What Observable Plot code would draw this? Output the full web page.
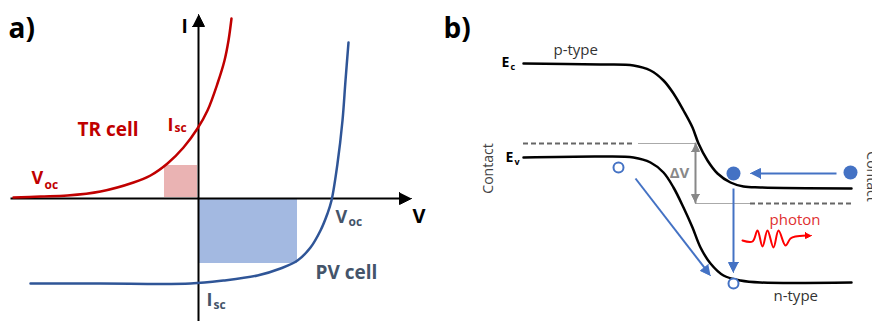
<!DOCTYPE html>
<html><head><meta charset="utf-8">
<script src="https://cdn.jsdelivr.net/npm/d3@7"></script>
<script src="https://cdn.jsdelivr.net/npm/@observablehq/plot@0.6"></script>
<style>html,body{margin:0;padding:0;background:#fff}svg{display:block}</style>
</head><body><div id="chart"></div>
<script>
// ---------- Panel a: I–V curves (schematic coordinates) ----------
const trCell = [[13,197],[40,196],[67,195],[100,191],[133,182],[150,175],[167,163],[183,147],[197,128],[207,110],[217,83],[224,60],[228,40],[231,18]];
const pvCell = [[30,283],[100,283],[190,283],[223,280],[257,275],[280,268],[297,260],[310,247],[320,230],[327,213],[331,200],[337,163],[342,120],[345,80],[348,42]];
const powerRects = [
  {name:"TR", x1:164, x2:197, y1:165, y2:197, fill:"#eab3b3"},
  {name:"PV", x1:198, x2:297, y1:199, y2:263, fill:"#a3b9e1"}
];
const axesA = [
  {name:"I", from:[198,321], to:[198,14]},
  {name:"V", from:[10,198], to:[411,198]}
];
// ---------- Panel b: band diagram ----------
const ecBand = [[523,63],[600,64],[633,65],[650,70],[663,80],[673,93],[683,110],[692,127],[698,143],[707,160],[717,173],[730,182],[743,186],[760,187],[851,188]];
const evBand = [[523,157],[600,156],[633,157],[650,162],[663,172],[673,187],[683,207],[692,227],[700,247],[710,263],[723,275],[740,280],[760,282],[851,282]];
const dashedLevels = [
  {name:"upper", x1:523, x2:634, y:143},
  {name:"lower", x1:750, x2:851, y:203}
];
const thinLevels = [
  {name:"upper", x1:638, x2:695, y:143},
  {name:"lower", x1:695, x2:750, y:203}
];
const deltaV = {from:[695,143], to:[695,202]};
const carrierArrows = [
  {name:"inject", from:[836,173], to:[750,173]},
  {name:"recomb", from:[733,188], to:[733,272]},
  {name:"hole",   from:[635,178], to:[710,275]}
];
const electrons = [[733,173],[850,172]];
const holes = [[618,167],[733,283]];
const photonWave = [[742,240],[752,241],[757,230],[762,246],[767,230],[773,247],[778,230],[785,245],[790,238],[795,236],[806,235]];
const photonTip = {from:[800,235], to:[811,235]};

// ---------- Labels ----------
const F = "'Open Sans', sans-serif";
const labels = [
  {t:"a)", x:8, y:37, size:28, weight:700, color:"#000"},
  {t:"I", x:181, y:32, size:19, weight:700, color:"#000"},
  {t:"V", x:412, y:222, size:20, weight:700, color:"#000"},
  {t:"TR cell", x:77, y:135, size:19, weight:700, color:"#c00000"},
  {t:"I", x:167, y:130, size:18, weight:700, color:"#c00000"},
  {t:"sc", x:174, y:131, size:12, weight:700, color:"#c00000"},
  {t:"V", x:31, y:183, size:18, weight:700, color:"#c00000"},
  {t:"oc", x:44, y:188, size:12, weight:700, color:"#c00000"},
  {t:"V", x:335, y:222, size:18, weight:700, color:"#44546a"},
  {t:"oc", x:348, y:225, size:12, weight:700, color:"#44546a"},
  {t:"PV cell", x:315, y:278, size:19, weight:700, color:"#44546a"},
  {t:"I", x:206, y:305, size:18, weight:700, color:"#44546a"},
  {t:"sc", x:213, y:308, size:12, weight:700, color:"#44546a"},
  {t:"b)", x:443, y:37, size:28, weight:700, color:"#000"},
  {t:"p-type", x:553, y:54, size:15, weight:400, color:"#333"},
  {t:"n-type", x:773, y:300, size:15, weight:400, color:"#333"},
  {t:"E", x:501, y:66, size:14, weight:700, color:"#000"},
  {t:"c", x:510, y:69, size:9, weight:700, color:"#000"},
  {t:"E", x:505, y:161, size:14, weight:700, color:"#000"},
  {t:"v", x:514, y:164, size:9, weight:700, color:"#000"},
  {t:"ΔV", x:679, y:177, size:15, weight:700, color:"#888", anchor:"middle"},
  {t:"photon", x:769, y:224, size:15, weight:400, color:"#e03030"},
  {t:"Contact", x:488, y:168, size:14, weight:400, color:"#444", anchor:"middle", line:"middle", rotate:-90},
  {t:"Contact", x:866, y:176, size:14, weight:400, color:"#444", anchor:"middle", line:"bottom", rotate:90}
];

// ---------- helpers ----------
const pts = (arr, id) => arr.map(([x, y]) => ({id, x, y}));
function head(id, from, to, len, hw) {
  const dx = to[0] - from[0], dy = to[1] - from[1], L = Math.hypot(dx, dy);
  const ux = dx / L, uy = dy / L, nx = -uy, ny = ux;
  const bx = to[0] - ux * len, by = to[1] - uy * len;
  return [{id, x: to[0], y: to[1]}, {id, x: bx + nx * hw, y: by + ny * hw}, {id, x: bx - nx * hw, y: by - ny * hw}];
}
function shaft(id, from, to, len) {
  const dx = to[0] - from[0], dy = to[1] - from[1], L = Math.hypot(dx, dy);
  return [{id, x: from[0], y: from[1]}, {id, x: to[0] - dx / L * len * 0.8, y: to[1] - dy / L * len * 0.8}];
}

const axisShafts = axesA.flatMap(a => shaft(a.name, a.from, a.to, 11));
const axisHeads = axesA.flatMap(a => head(a.name, a.from, a.to, 12, 6));
const carrierShafts = carrierArrows.flatMap(a => shaft(a.name, a.from, a.to, 10));
const carrierHeads = carrierArrows.flatMap(a => head(a.name, a.from, a.to, 10, 5));
const dvShaft = [{id:"dv", x:deltaV.from[0], y:deltaV.from[1]}, {id:"dv", x:deltaV.to[0], y:deltaV.to[1]}];
const dvHeads = [...head("up", deltaV.to, deltaV.from, 8, 4), ...head("down", deltaV.from, deltaV.to, 8, 4)];
const photonHead = head("ph", photonTip.from, photonTip.to, 6, 3);

const textMarks = labels.map(l => Plot.text([l], {
  x: "x", y: "y", text: "t", fontSize: l.size, fontWeight: l.weight, fill: l.color,
  textAnchor: l.anchor ?? "start", lineAnchor: l.line ?? "bottom", rotate: l.rotate ?? 0, fontFamily: F
}));

const chart = Plot.plot({
  width: 872, height: 321, margin: 0,
  style: {background: "#fff", fontFamily: F},
  x: {domain: [0, 872], axis: null},
  y: {domain: [0, 321], reverse: true, axis: null},
  marks: [
    Plot.rect(powerRects, {x1: "x1", x2: "x2", y1: "y1", y2: "y2", fill: "fill"}),
    Plot.line(axisShafts, {x: "x", y: "y", z: "id", stroke: "#000", strokeWidth: 2, strokeLinecap: "butt"}),
    Plot.line(axisHeads, {x: "x", y: "y", z: "id", fill: "#000", stroke: "#000", strokeWidth: 1}),
    Plot.line(pts(trCell, "tr"), {x: "x", y: "y", stroke: "#c00000", strokeWidth: 2.5, curve: "catmull-rom"}),
    Plot.line(pts(pvCell, "pv"), {x: "x", y: "y", stroke: "#2f5597", strokeWidth: 2.5, curve: "catmull-rom"}),
    // panel b
    Plot.ruleY(dashedLevels, {x1: "x1", x2: "x2", y: "y", stroke: "#666", strokeWidth: 2, strokeDasharray: "5,3"}),
    Plot.ruleY(thinLevels, {x1: "x1", x2: "x2", y: "y", stroke: "#aaa", strokeWidth: 1.2}),
    Plot.line(dvShaft, {x: "x", y: "y", stroke: "#888", strokeWidth: 2}),
    Plot.line(dvHeads, {x: "x", y: "y", z: "id", fill: "#888", stroke: "#888", strokeWidth: 1}),
    Plot.line(pts(ecBand, "ec"), {x: "x", y: "y", stroke: "#000", strokeWidth: 2.5, curve: "catmull-rom"}),
    Plot.line(pts(evBand, "ev"), {x: "x", y: "y", stroke: "#000", strokeWidth: 2.5, curve: "catmull-rom"}),
    Plot.line(carrierShafts, {x: "x", y: "y", z: "id", stroke: "#4472c4", strokeWidth: 2, strokeLinecap: "butt"}),
    Plot.line(carrierHeads, {x: "x", y: "y", z: "id", fill: "#4472c4", stroke: "#4472c4", strokeWidth: 1}),
    Plot.dot(pts(electrons, "e"), {x: "x", y: "y", r: 7, fill: "#4472c4", stroke: "none"}),
    Plot.dot(pts(holes, "h"), {x: "x", y: "y", r: 5, fill: "#fff", stroke: "#4472c4", strokeWidth: 2}),
    Plot.line(pts(photonWave, "ph"), {x: "x", y: "y", stroke: "#ff0000", strokeWidth: 2, curve: "catmull-rom"}),
    Plot.line(photonHead, {x: "x", y: "y", fill: "#ff0000", stroke: "#ff0000", strokeWidth: 1}),
    ...textMarks
  ]
});
document.getElementById("chart").append(chart);
</script>
</body></html>
